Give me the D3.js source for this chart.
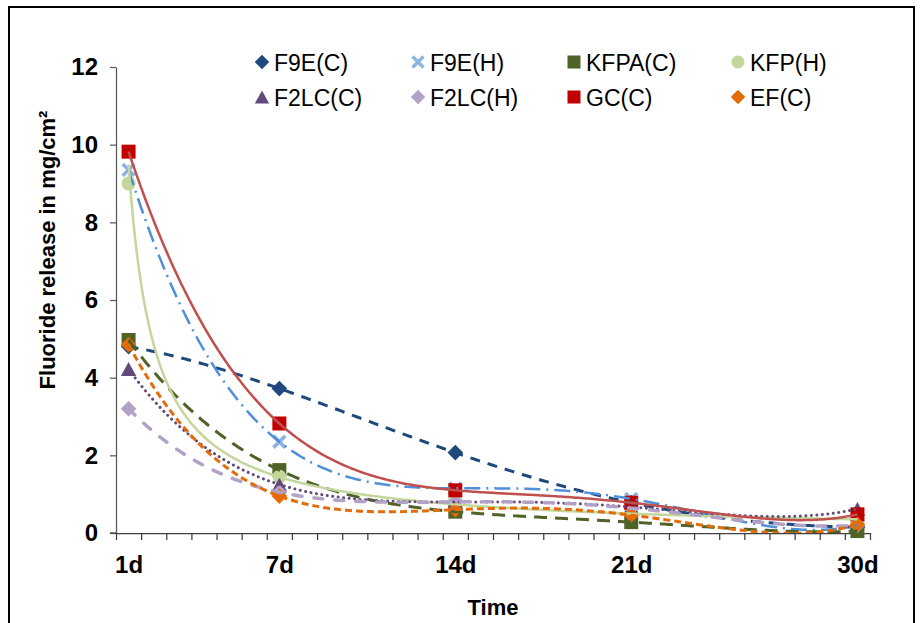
<!DOCTYPE html>
<html>
<head>
<meta charset="utf-8">
<script src="https://cdn.jsdelivr.net/npm/d3@7/dist/d3.min.js"></script>
<style>
  html, body { margin: 0; padding: 0; background: #fff; }
  svg { display: block; font-family: "Liberation Sans", Arial, sans-serif; }
</style>
</head>
<body>
<svg id="chart" width="920" height="623"></svg>
<script>
// Sampling days (x positions on a 30-day category axis)
const days = [1, 7, 14, 21, 30];
const dayLabels = ["1d", "7d", "14d", "21d", "30d"];
const yTicks = [0, 2, 4, 6, 8, 10, 12];

// Fluoride release (mg/cm²) per material
const seriesNames = ["F9E(C)", "F9E(H)", "KFPA(C)", "KFP(H)", "F2LC(C)", "F2LC(H)", "GC(C)", "EF(C)"];
const f9eC  = [4.80, 3.72, 2.07, 0.78, 0.15];
const f9eH  = [9.35, 2.35, 1.15, 0.88, 0.20];
const kfpaC = [4.97, 1.62, 0.55, 0.28, 0.05];
const kfpH  = [9.00, 1.45, 0.88, 0.55, 0.28];
const f2lcC = [4.22, 1.25, 0.80, 0.67, 0.62];
const f2lcH = [3.20, 1.05, 0.80, 0.64, 0.20];
const gcC   = [9.82, 2.82, 1.10, 0.78, 0.48];
const efC   = [4.85, 0.95, 0.60, 0.46, 0.22];
const seriesValues = [f9eC, f9eH, kfpaC, kfpH, f2lcC, f2lcH, gcC, efC];

// Trendline type fitted to each series
const trendTypes = ["poly", "poly", "poly", "power", "poly", "poly", "poly", "poly"];

// Appearance
const markerShapes = ["diamond", "x", "square", "circle", "triangle", "diamond", "square", "diamond"];
const markerColors = ["#1F497D", "#8DB4E2", "#4F6228", "#C3D69B", "#604A7B", "#B3A2C7", "#C00000", "#E36C09"];
const lineColors   = ["#1F497D", "#4F8FDB", "#4F6228", "#C3D69B", "#604A7B", "#B3A2C7", "#C0504D", "#E36C09"];
const lineDashes   = ["10,8", "16,6,2,6", "13,8", null, "0.01,5.5", "9,12", null, "7,4"];
const lineWidths   = [3, 2.5, 3, 2.5, 3, 3.5, 2.5, 3];
const lineCaps     = ["butt", "butt", "butt", "butt", "round", "round", "butt", "butt"];

const svg = d3.select("#chart");

// Outer frame
svg.append("rect").attr("x", 9).attr("y", 7).attr("width", 905).attr("height", 640)
  .attr("fill", "none").attr("stroke", "#000").attr("stroke-width", 2);

const plot = { left: 116, right: 870, top: 67, bottom: 533 };

// 30 daily categories; each day sits in the middle of its slot
const x = d3.scaleLinear().domain([0.5, 30.5]).range([plot.left, plot.right]);
const y = d3.scaleLinear().domain([0, 12]).range([plot.bottom, plot.top]);

svg.append("clipPath").attr("id", "plotClip")
  .append("rect").attr("x", plot.left).attr("y", plot.top - 2)
  .attr("width", plot.right - plot.left + 2).attr("height", plot.bottom - plot.top + 2);

// Y axis
const yAxis = svg.append("g").attr("transform", `translate(${plot.left},0)`)
  .call(d3.axisLeft(y).tickValues(yTicks).tickSize(6).tickSizeOuter(0).tickPadding(12));
yAxis.select(".domain").attr("stroke", "#595959").attr("stroke-width", 1.25);
yAxis.selectAll(".tick line").attr("stroke", "#595959").attr("stroke-width", 1.25);
yAxis.selectAll(".tick text").attr("font-size", 24).attr("font-weight", "bold")
  .attr("fill", "#000").attr("font-family", "Liberation Sans, Arial, sans-serif");

// X axis: tick marks between day slots
const xAxis = svg.append("g").attr("transform", `translate(0,${plot.bottom})`)
  .call(d3.axisBottom(x).tickValues(d3.range(0.5, 30.6, 1)).tickFormat("").tickSize(7).tickSizeOuter(0));
xAxis.select(".domain").attr("stroke", "#404040").attr("stroke-width", 1.25);
xAxis.selectAll(".tick line").attr("stroke", "#404040").attr("stroke-width", 1.25);
svg.append("line").attr("x1", plot.left - 6).attr("x2", plot.left)
  .attr("y1", plot.bottom).attr("y2", plot.bottom).attr("stroke", "#404040").attr("stroke-width", 1.25);

// X axis labels on the sampling days
const xLabels = svg.append("g").attr("transform", `translate(0,${plot.bottom})`)
  .call(d3.axisBottom(x).tickValues(days).tickFormat((d, i) => dayLabels[i]).tickSize(0).tickPadding(23));
xLabels.select(".domain").remove();
xLabels.selectAll(".tick text").attr("font-size", 24).attr("font-weight", "bold")
  .attr("fill", "#000").attr("font-family", "Liberation Sans, Arial, sans-serif");

// Axis titles
svg.append("text").attr("x", (plot.left + plot.right) / 2).attr("y", 615)
  .attr("text-anchor", "middle").attr("font-size", 22).attr("font-weight", "bold").text("Time");
svg.append("text").attr("transform", "translate(55,250) rotate(-90)")
  .attr("text-anchor", "middle").attr("font-size", 22).attr("font-weight", "bold")
  .text("Fluoride release in mg/cm²");

// Marker drawing
function drawMarker(g, shape, color, cx, cy, s) {
  if (shape === "square") {
    g.append("rect").attr("x", cx - s / 2).attr("y", cy - s / 2).attr("width", s).attr("height", s).attr("fill", color);
  } else if (shape === "diamond") {
    const r = s * 0.56;
    g.append("path").attr("d", `M${cx},${cy - r}L${cx + r},${cy}L${cx},${cy + r}L${cx - r},${cy}Z`).attr("fill", color);
  } else if (shape === "circle") {
    g.append("circle").attr("cx", cx).attr("cy", cy).attr("r", s / 2).attr("fill", color);
  } else if (shape === "triangle") {
    const h = s, hw = s * 0.55;
    g.append("path").attr("d", `M${cx},${cy - h / 2}L${cx + hw},${cy + h / 2}L${cx - hw},${cy + h / 2}Z`).attr("fill", color);
  } else if (shape === "x") {
    const r = s * 0.42;
    g.append("path").attr("d", `M${cx - r},${cy - r}L${cx + r},${cy + r}M${cx - r},${cy + r}L${cx + r},${cy - r}`)
      .attr("stroke", color).attr("stroke-width", s * 0.26).attr("fill", "none");
  }
}

// Data markers
const markers = svg.append("g");
seriesValues.forEach((vals, si) => {
  vals.forEach((v, i) => drawMarker(markers, markerShapes[si], markerColors[si], x(days[i]), y(v), 14));
});

// Trendlines fitted to each series
function polyTrend(xs, ys) {
  // order-4 polynomial through the five samples
  return t => ys.reduce((sum, yi, i) =>
    sum + yi * xs.reduce((p, xj, j) => j === i ? p : p * (t - xj) / (xs[i] - xj), 1), 0);
}
function powerTrend(xs, ys) {
  const lx = xs.map(Math.log), ly = ys.map(Math.log);
  const mx = d3.mean(lx), my = d3.mean(ly);
  const b = d3.sum(lx, (v, i) => (v - mx) * (ly[i] - my)) / d3.sum(lx, v => (v - mx) * (v - mx));
  const a = Math.exp(my - b * mx);
  return t => a * Math.pow(t, b);
}
const tSteps = d3.range(days[0], days[days.length - 1] + 0.001, 0.1);
const trendLayer = svg.append("g").attr("clip-path", "url(#plotClip)");
seriesValues.forEach((vals, si) => {
  const f = trendTypes[si] === "power" ? powerTrend(days, vals) : polyTrend(days, vals);
  const line = d3.line().x(t => x(t)).y(t => y(f(t))).curve(d3.curveLinear);
  trendLayer.append("path").attr("d", line(tSteps))
    .attr("fill", "none").attr("stroke", lineColors[si]).attr("stroke-width", lineWidths[si])
    .attr("stroke-dasharray", lineDashes[si]).attr("stroke-linecap", lineCaps[si])
    .attr("stroke-linejoin", "round");
});

// Legend: 4 columns x 2 rows
const legendCols = [262, 418, 574, 738];
const legendRows = [62, 97];
const legend = svg.append("g");
seriesNames.forEach((name, i) => {
  const cx = legendCols[i % 4], cy = legendRows[Math.floor(i / 4)];
  drawMarker(legend, markerShapes[i], markerColors[i], cx, cy, 13);
  legend.append("text").attr("x", cx + 12).attr("y", cy + 9).attr("font-size", 23).attr("fill", "#000").text(name);
});
</script>
</body>
</html>
